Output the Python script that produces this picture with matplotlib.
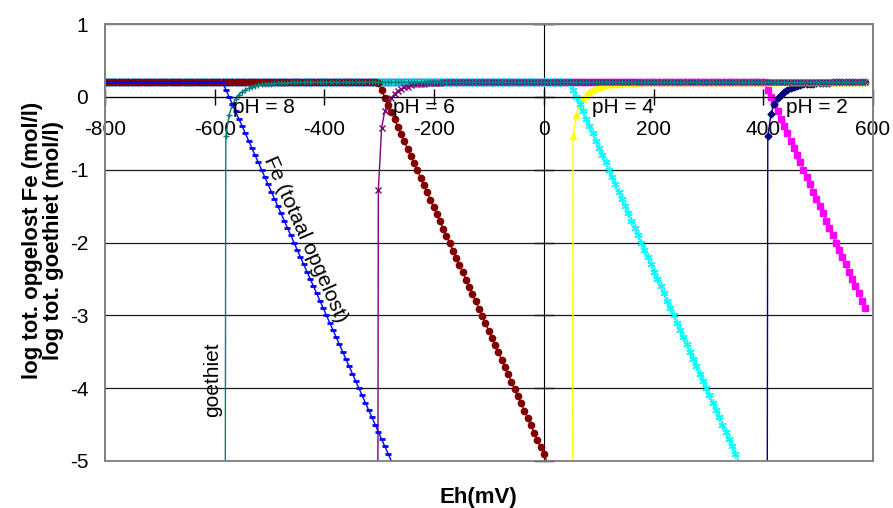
import numpy as np
import matplotlib.pyplot as plt
from matplotlib.patches import Rectangle

plt.rcParams['font.family'] = ['Liberation Sans', 'DejaVu Sans']
plt.rcParams['axes.unicode_minus'] = False

# calculation grid: pe from -13.5 to 9.9 in steps of 0.1, Eh = 59.16 mV per pe unit
pe = np.round(np.arange(-135, 100) / 10, 1)
eh = 59.16 * pe

log_fe_tot = 0.2    # log total Fe in the system (mol/l)
off_scale = -30     # goethite disappears at the boundary -> far below the axis

# log dissolved Fe after the goethite boundary (pe of first value given)
fe_ph8_start = -9.8
fe_ph8 = [0.1, 0.0, -0.1, -0.2, -0.3, -0.4, -0.5, -0.6, -0.7, -0.8, -0.9,
          -1.0, -1.1, -1.2, -1.3, -1.4, -1.5, -1.6, -1.7, -1.8, -1.9,
          -2.0, -2.1, -2.2, -2.3, -2.4, -2.5, -2.6, -2.7, -2.8, -2.9,
          -3.0, -3.1, -3.2, -3.3, -3.4, -3.5, -3.6, -3.7, -3.8, -3.9,
          -4.0, -4.1, -4.2, -4.3, -4.4, -4.5, -4.6, -4.7, -4.8, -4.9,
          -5.0, -5.1]

fe_ph6_start = -5.1
fe_ph6 = [0.19, 0.09, -0.01, -0.11, -0.21, -0.31, -0.41, -0.51, -0.61, -0.71, -0.81,
          -0.91, -1.01, -1.11, -1.21, -1.31, -1.41, -1.51, -1.61, -1.71, -1.81,
          -1.91, -2.01, -2.11, -2.21, -2.31, -2.41, -2.51, -2.61, -2.71, -2.81,
          -2.91, -3.01, -3.11, -3.21, -3.31, -3.41, -3.51, -3.61, -3.71, -3.81,
          -3.91, -4.01, -4.11, -4.21, -4.31, -4.41, -4.51, -4.61, -4.71, -4.81,
          -4.91, -5.01]

fe_ph4_start = 0.9
fe_ph4 = [0.1, 0.0, -0.1, -0.2, -0.3, -0.4, -0.5, -0.6, -0.7, -0.8, -0.9,
          -1.0, -1.1, -1.2, -1.3, -1.4, -1.5, -1.6, -1.7, -1.8, -1.9,
          -2.0, -2.1, -2.2, -2.3, -2.4, -2.5, -2.6, -2.7, -2.8, -2.9,
          -3.0, -3.1, -3.2, -3.3, -3.4, -3.5, -3.6, -3.7, -3.8, -3.9,
          -4.0, -4.1, -4.2, -4.3, -4.4, -4.5, -4.6, -4.7, -4.8, -4.9,
          -5.0, -5.1]

fe_ph2_start = 6.9
fe_ph2 = [0.1, 0.0, -0.1, -0.2, -0.3, -0.4, -0.5, -0.6, -0.7, -0.8, -0.9,
          -1.0, -1.1, -1.2, -1.3, -1.4, -1.5, -1.6, -1.7, -1.8, -1.9,
          -2.0, -2.1, -2.2, -2.3, -2.4, -2.5, -2.6, -2.7, -2.8, -2.9]

# log goethite from the boundary onwards
goe_ph8_start = -9.9
goe_ph8 = [off_scale, -0.54, -0.25, -0.11, -0.03, 0.03, 0.07, 0.10, 0.12, 0.14, 0.15,
           0.16, 0.17, 0.17, 0.18, 0.18, 0.19, 0.19, 0.19, 0.19, 0.19]

goe_ph6_start = -5.2
goe_ph6 = [off_scale, -1.28, -0.43, -0.19, -0.08, -0.01, 0.04, 0.08, 0.11, 0.13, 0.14,
           0.16, 0.17, 0.17, 0.18, 0.18, 0.19, 0.19, 0.19, 0.19, 0.19]

goe_ph4_start = 0.8
goe_ph4 = [off_scale, -0.54, -0.25, -0.11, -0.03, 0.03, 0.07, 0.10, 0.12, 0.14, 0.15,
           0.16, 0.17, 0.17, 0.18, 0.18, 0.19, 0.19, 0.19, 0.19, 0.19]

goe_ph2_start = 6.8
goe_ph2 = [off_scale, -0.54, -0.23, -0.10, -0.02, 0.03, 0.07, 0.10, 0.12, 0.14, 0.15,
           0.16, 0.17, 0.17, 0.18, 0.18, 0.19, 0.19, 0.19, 0.19, 0.19]

ph_labels = ['pH = 8', 'pH = 6', 'pH = 4', 'pH = 2']
ph_label_eh = [-567, -275, 88, 441]


def pos(p):
    return int(round((p - pe[0]) * 10))


def fe_series(start, values):
    # flat at total Fe up to the boundary, then the listed values
    y = np.array([log_fe_tot] * pos(start) + values)
    return eh[:len(y)], y


def goethite_series(start, values):
    i = pos(start)
    y = np.array(values + [log_fe_tot] * (len(pe) - i - len(values)))
    return eh[i:], y


fig = plt.figure(figsize=(8.93, 5.08), dpi=100)
ax = fig.add_axes([105 / 893, 1 - 461 / 508, 768 / 893, 437 / 508])

series = [
    (fe_series(fe_ph2_start, fe_ph2), dict(color='#FF00FF', marker='s', ms=4.5)),
    (goethite_series(goe_ph2_start, goe_ph2), dict(color='#000080', marker='D', ms=3.5)),
    (goethite_series(goe_ph4_start, goe_ph4), dict(color='#FFFF00', marker='^', ms=4.5)),
    (fe_series(fe_ph4_start, fe_ph4), dict(color='#00FFFF', marker=(6, 2, 0), ms=6, mew=1)),
    (goethite_series(goe_ph6_start, goe_ph6), dict(color='#800080', marker='x', ms=4, mew=1)),
    (fe_series(fe_ph6_start, fe_ph6), dict(color='#800000', marker='o', ms=4.5)),
    (goethite_series(goe_ph8_start, goe_ph8), dict(color='#008080', marker='+', ms=5, mew=1)),
    (fe_series(fe_ph8_start, fe_ph8), dict(color='#0000FF', marker='_', ms=4, mew=2)),
]
for (x, y), style in series:
    shown = ((y > -4.99) & (y <= 1)).tolist()
    ax.plot(x, y, lw=1, markevery=shown, **style)

ax.set_xlim(-800, 600)
ax.set_ylim(-5, 1)
ax.set_xticks(np.arange(-800, 601, 200))
ax.set_yticks(np.arange(-5, 2, 1))

# x axis runs through y = 0, y axis through Eh = 0
ax.spines['bottom'].set_position(('data', 0))
ax.spines['bottom'].set_color('black')
for side in ['left', 'top', 'right']:
    ax.spines[side].set_color('#808080')
    ax.spines[side].set_linewidth(1.3)
ax.add_patch(Rectangle((0, 0), 1, 1, transform=ax.transAxes, fill=False,
                       ec='#808080', lw=1.3, clip_on=False, zorder=3))
ax.tick_params(axis='x', direction='inout', length=12, width=1, pad=11, labelsize=15)
ax.tick_params(axis='y', length=0, pad=12, labelsize=15)
ax.yaxis.grid(True, color='#1a1a1a', lw=0.9)
ax.set_axisbelow(True)

yax0 = ax.secondary_yaxis(800 / 1400)
yax0.spines['left'].set_color('black')
yax0.tick_params(direction='inout', length=14, width=1, labelleft=False, labelright=False)

for lab, e in zip(ph_labels, ph_label_eh):
    ax.text(e, -0.15, lab, fontsize=15, ha='left', va='center')
ax.text(-435, -1.96, 'Fe (totaal opgelost)', fontsize=15, rotation=-66,
        ha='center', va='center', rotation_mode='anchor')
ax.text(-603, -3.89, 'goethiet', fontsize=15, rotation=90, ha='center', va='center')

fig.text(478 / 893, 1 - 497 / 508, 'Eh(mV)', fontsize=16, fontweight='bold',
         ha='center', va='center')
fig.text(43 / 893, 1 - 240 / 508, 'log tot. opgelost Fe (mol/l)\nlog tot. goethiet (mol/l)',
         fontsize=16, fontweight='bold', rotation=90, ha='center', va='center',
         multialignment='center', linespacing=1.0)

fig.savefig('out.png', dpi=100)
